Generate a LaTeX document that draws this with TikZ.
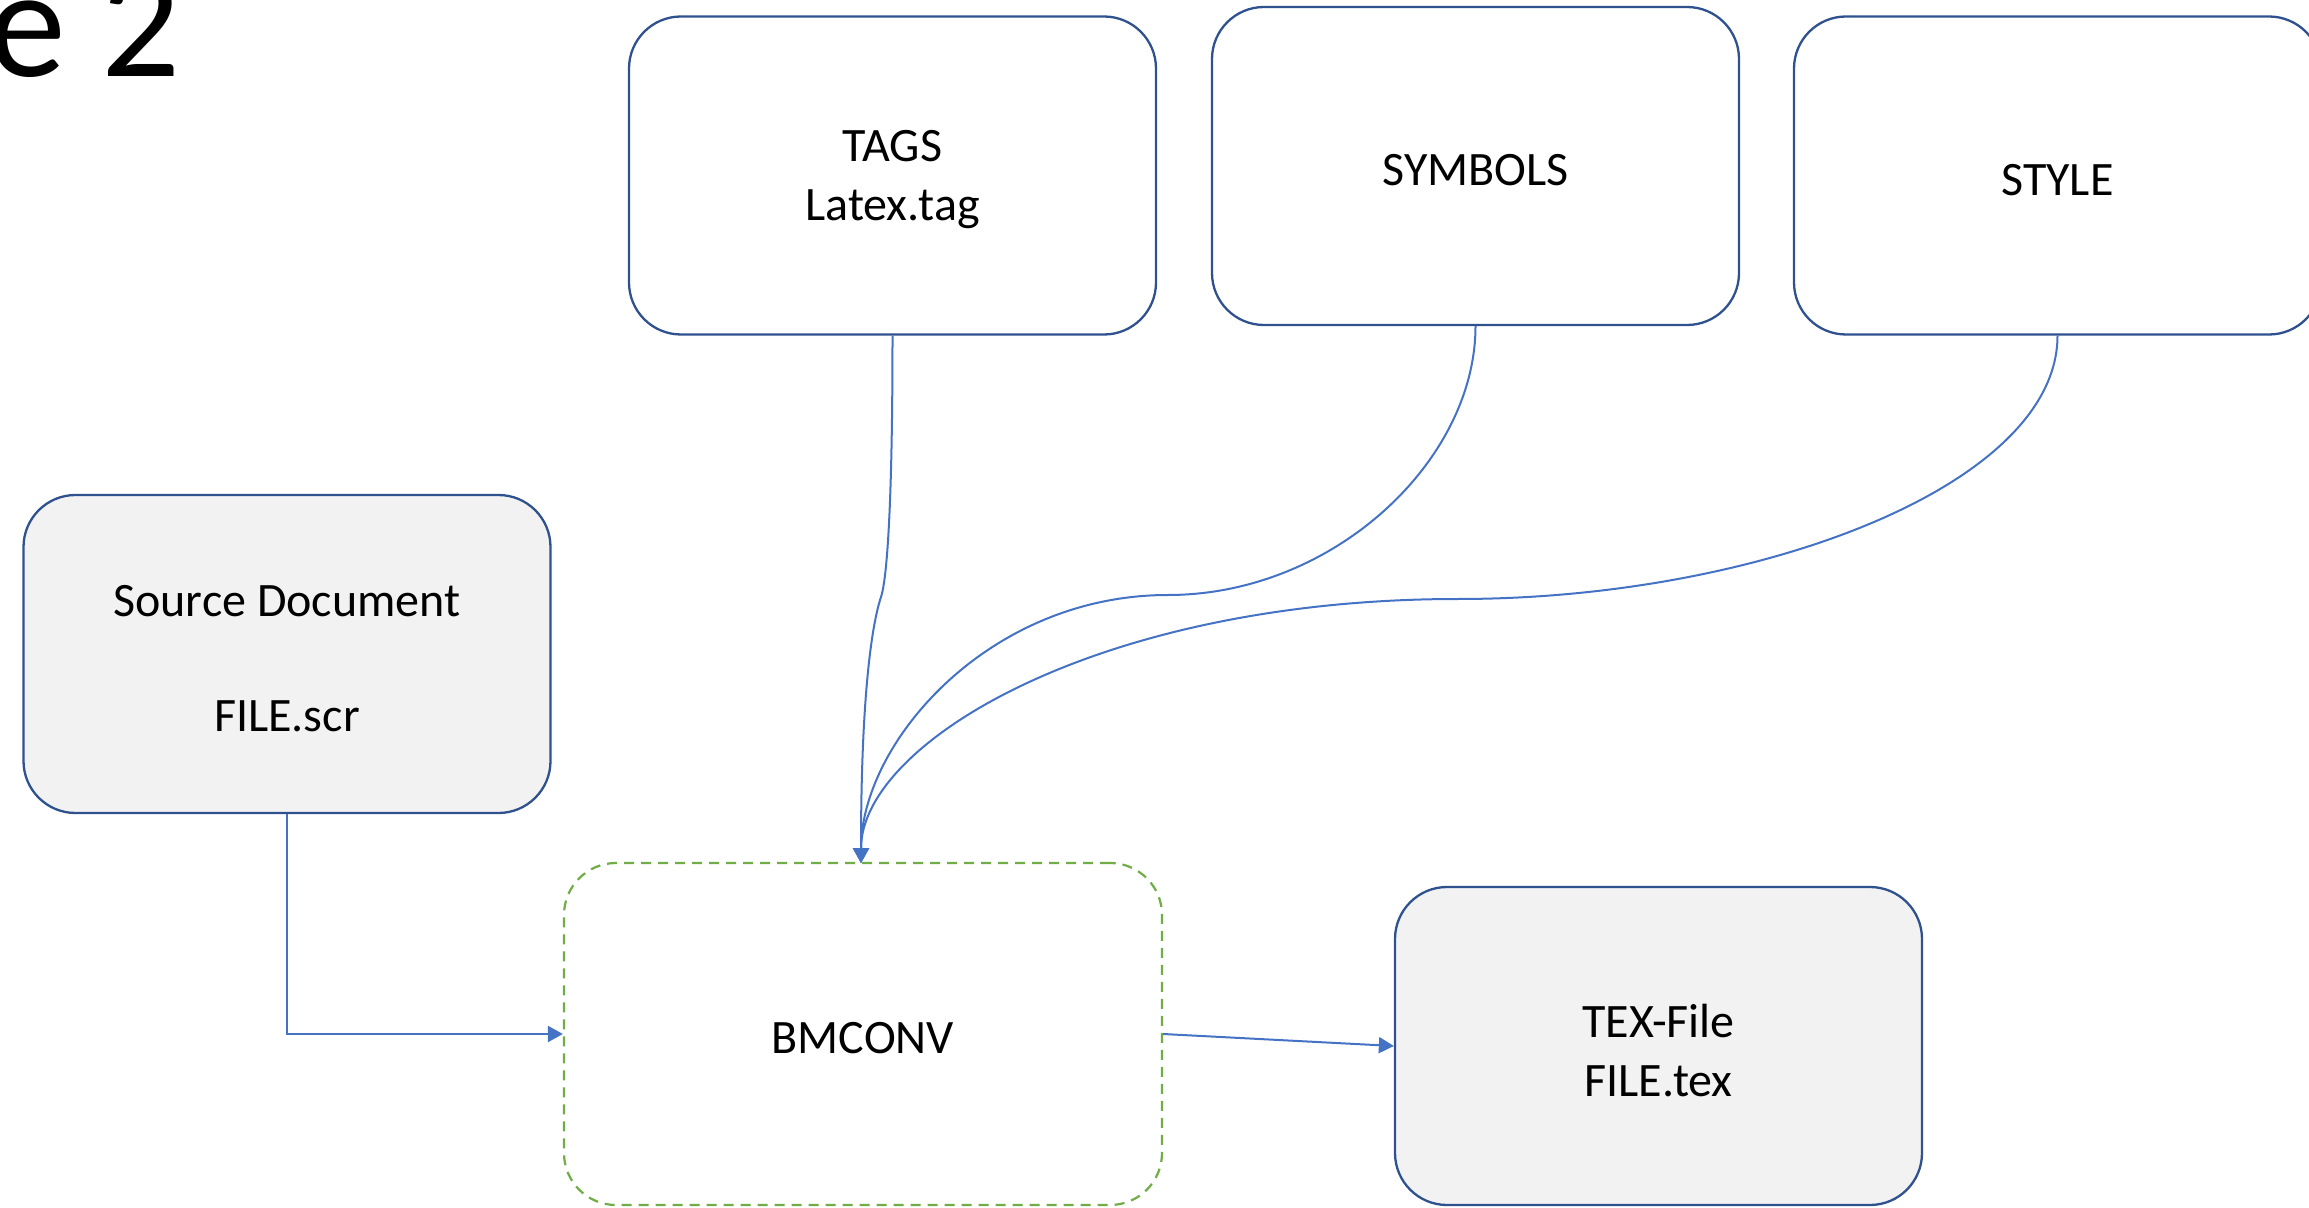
\documentclass[tikz,border=0pt]{standalone}
\usepackage{fontspec}
\setmainfont{Carlito}
\usetikzlibrary{arrows.meta}
\definecolor{boxline}{HTML}{2F528F}
\definecolor{conn}{HTML}{4472C4}
\definecolor{dashgreen}{HTML}{70AD47}
\definecolor{boxfill}{HTML}{F2F2F2}
\begin{document}
\begin{tikzpicture}[x=0.5pt,y=-0.5pt,
  boxtext/.style={label={[align=center,inner sep=0pt,font=\fontsize{24}{29.5}\selectfont,yshift=-2.2pt]center:{#1}}},
  boxnode/.style={draw=boxline,line width=1.15pt,rounded corners=26pt,inner sep=0pt,
    minimum width=263.5pt,minimum height=159pt},
  filledbox/.style={boxnode,fill=boxfill},
  dashbox/.style={draw=dashgreen,line width=1.1pt,dash pattern=on 5pt off 3.5pt,rounded corners=26pt,
    inner sep=0pt,minimum width=299pt,minimum height=171pt},
  connector/.style={draw=conn,line width=1pt,-{Triangle[length=7.5pt,width=8pt]}}]
\useasboundingbox (0,0) rectangle (2309,1208);
\node[anchor=base east,inner sep=0pt,font=\fontsize{78}{90}\selectfont] (title) at (181,77) {e 2};
\node[boxnode,boxtext={TAGS\\Latex.tag}] (tags) at (892.5,175.5) {};
\node[boxnode,boxtext={SYMBOLS}] (sym) at (1475.5,166) {};
\node[boxnode,boxtext={STYLE}] (style) at (2057.5,175.5) {};
\node[filledbox,boxtext={Source Document\\[28pt]FILE.scr}] (src) at (287,654) {};
\node[dashbox,boxtext={BMCONV}] (bm) at (863,1034) {};
\node[filledbox,boxtext={TEX-File\\FILE.tex}] (tex) at (1658.5,1046) {};
\coordinate (k1) at (881,597);
\coordinate (m1) at (1168,595);
\coordinate (m2) at (1458,599);
\coordinate (bmtop) at (861,863);
\coordinate (corner) at (src.south |- bm.west);
\draw[connector] (tags.south) .. controls +(0,200) and +(4,-12) .. (k1) .. controls +(-4,12) and +(0,-200) .. (bmtop);
\draw[connector] (sym.south) .. controls +(0,135) and +(165,0) .. (m1) .. controls +(-180,0) and +(0,-120) .. (bmtop);
\draw[connector] (style.south) .. controls +(0,150) and +(300,0) .. (m2) .. controls +(-360,0) and +(0,-120) .. (bmtop);
\draw[connector] (src.south) -- (corner) -- (bm.west);
\draw[connector] (bm.east) -- (tex.west);
\end{tikzpicture}
\end{document}
